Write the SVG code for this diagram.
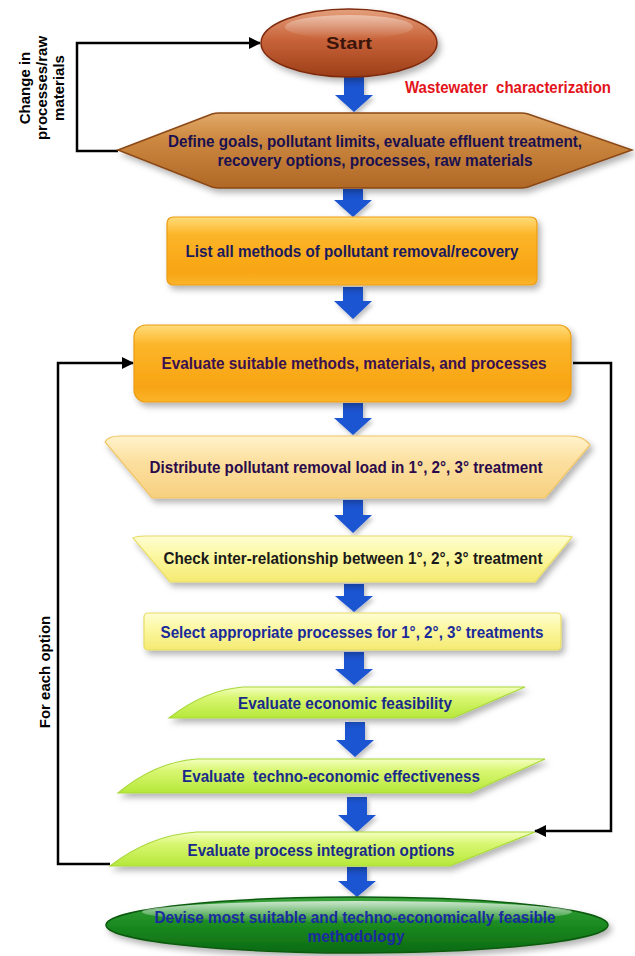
<svg xmlns="http://www.w3.org/2000/svg" width="635" height="956" viewBox="0 0 635 956">
<defs>
<style>
.t{font-family:"Liberation Sans",Arial,sans-serif;font-weight:bold;font-size:16.5px;text-anchor:middle}
.side{font-family:"Liberation Sans",Arial,sans-serif;font-weight:bold;font-size:15px;fill:#000;text-anchor:middle}
.conn{fill:none;stroke:#000;stroke-width:2.5}
.blue{fill:#1c54d2}
</style>
<filter id="sh" x="-10%" y="-30%" width="125%" height="170%">
<feDropShadow dx="3" dy="4" stdDeviation="3" flood-color="#000" flood-opacity="0.3"/>
</filter>
<filter id="bsh" x="-30%" y="-20%" width="170%" height="150%">
<feDropShadow dx="2" dy="3" stdDeviation="2" flood-color="#000" flood-opacity="0.25"/>
</filter>
<marker id="ah" markerWidth="12" markerHeight="12" refX="11" refY="6" orient="auto" markerUnits="userSpaceOnUse">
<path d="M0,0 L12,6 L0,12 Z" fill="#000"/>
</marker>
<linearGradient id="gStart" x1="0" y1="0" x2="0" y2="1">
<stop offset="0" stop-color="#e4a07c"/><stop offset="0.45" stop-color="#c8633a"/><stop offset="1" stop-color="#9c3e18"/>
</linearGradient>
<linearGradient id="gHex" x1="0" y1="0" x2="0" y2="1">
<stop offset="0" stop-color="#e2aa6a"/><stop offset="0.35" stop-color="#cc8840"/><stop offset="1" stop-color="#b06826"/>
</linearGradient>
<linearGradient id="gOr" x1="0" y1="0" x2="0" y2="1">
<stop offset="0" stop-color="#ffdc7a"/><stop offset="0.25" stop-color="#fcb62a"/><stop offset="0.8" stop-color="#f8a412"/><stop offset="1" stop-color="#fbb42c"/>
</linearGradient>
<linearGradient id="gPeach" x1="0" y1="0" x2="0" y2="1">
<stop offset="0" stop-color="#fff3cc"/><stop offset="0.4" stop-color="#fce0a0"/><stop offset="1" stop-color="#f7d080"/>
</linearGradient>
<linearGradient id="gYel" x1="0" y1="0" x2="0" y2="1">
<stop offset="0" stop-color="#fefdd2"/><stop offset="0.4" stop-color="#fcf8a4"/><stop offset="1" stop-color="#f4ea72"/>
</linearGradient>
<linearGradient id="gLime" x1="0" y1="0" x2="0" y2="1">
<stop offset="0" stop-color="#f4ffc0"/><stop offset="0.35" stop-color="#d8f670"/><stop offset="1" stop-color="#b6e83a"/>
</linearGradient>
<linearGradient id="gGreen" x1="0" y1="0" x2="0" y2="1">
<stop offset="0" stop-color="#3aa43c"/><stop offset="0.5" stop-color="#1a8a20"/><stop offset="1" stop-color="#0c6a12"/>
</linearGradient>
<linearGradient id="gHi" x1="0" y1="0" x2="0" y2="1">
<stop offset="0" stop-color="#ffffff" stop-opacity="0.75"/><stop offset="1" stop-color="#ffffff" stop-opacity="0"/>
</linearGradient>
</defs>
<rect width="635" height="956" fill="#fff"/>

<g id="connectors">
<path class="conn" d="M118,151 H77 V43 H260" marker-end="url(#ah)"/>
<path class="conn" d="M110,864 H58 V363 H133" marker-end="url(#ah)"/>
<path class="conn" d="M573,363 H611 V831 H535" marker-end="url(#ah)"/>
<g class="blue" filter="url(#bsh)">
<path d="M344,77 H364 V95 H373 L354,112 L335,95 H344 Z"/>
<path d="M343,189 H363 V200 H372 L353,217 L334,200 H343 Z"/>
<path d="M343,287 H363 V301 H372 L353,319 L334,301 H343 Z"/>
<path d="M343,403 H363 V418 H372 L353,435 L334,418 H343 Z"/>
<path d="M343,500 H363 V515 H372 L353,533 L334,515 H343 Z"/>
<path d="M344,584 H364 V596 H373 L354,612 L335,596 H344 Z"/>
<path d="M344,652 H364 V669 H373 L354,685 L335,669 H344 Z"/>
<path d="M345,722 H365 V740 H374 L355,757 L336,740 H345 Z"/>
<path d="M347,797 H367 V815 H376 L357,832 L338,815 H347 Z"/>
<path d="M347,867 H367 V881 H376 L357,897 L338,881 H347 Z"/>
</g>
</g>

<g id="start">
<ellipse cx="349" cy="43" rx="88" ry="34" fill="url(#gStart)" stroke="#7e2a0e" stroke-width="1.5" filter="url(#sh)"/>
<ellipse cx="349" cy="27" rx="64" ry="12" fill="url(#gHi)" opacity="0.55"/>
<text class="t" x="349" y="49" fill="#3a140a" textLength="46" lengthAdjust="spacingAndGlyphs">Start</text>
</g>

<g id="label-wastewater">
<text class="t" x="508" y="93" fill="#e3141a" textLength="206" lengthAdjust="spacingAndGlyphs" xml:space="preserve">Wastewater  characterization</text>
</g>

<g id="label-change">
<text class="side" transform="translate(30,88) rotate(-90)">Change in</text>
<text class="side" transform="translate(47,88) rotate(-90)">processes/raw</text>
<text class="side" transform="translate(64,88) rotate(-90)">materials</text>
</g>

<g id="label-foreach">
<text class="side" transform="translate(50,672) rotate(-90)" font-size="14.5">For each option</text>
</g>

<g id="define">
<path d="M118,150 L212,114 Q215,113 219,113 H521 Q525,113 528,114 L632,150 L528,187 Q525,188 521,188 H219 Q215,188 212,187 Z" fill="url(#gHex)" stroke="#8a4816" stroke-width="1.5" filter="url(#sh)"/>
<text class="t" x="375" y="147" fill="#1a1050" textLength="414" lengthAdjust="spacingAndGlyphs">Define goals, pollutant limits, evaluate effluent treatment,</text>
<text class="t" x="375" y="166" fill="#1a1050" textLength="315" lengthAdjust="spacingAndGlyphs">recovery options, processes, raw materials</text>
</g>

<g id="list">
<rect x="167" y="217" width="370" height="68" rx="6" fill="url(#gOr)" stroke="#ec9c12" stroke-width="1.2" filter="url(#sh)"/>
<text class="t" x="352" y="257" fill="#1a1a5c" textLength="333" lengthAdjust="spacingAndGlyphs">List all methods of pollutant removal/recovery</text>
</g>

<g id="evaluate">
<rect x="134" y="325" width="437" height="77" rx="12" fill="url(#gOr)" stroke="#ec9c12" stroke-width="1.2" filter="url(#sh)"/>
<text class="t" x="354" y="369" fill="#3a1050" textLength="385" lengthAdjust="spacingAndGlyphs">Evaluate suitable methods, materials, and processes</text>
</g>

<g id="distribute">
<path d="M105,442 Q108,436 120,436 H570 Q584,436 590,445 L545,498 H152 Z" fill="url(#gPeach)" stroke="#f0c464" stroke-width="1.2" filter="url(#sh)"/>
<text class="t" x="346" y="473" fill="#2a0a4a" textLength="393" lengthAdjust="spacingAndGlyphs">Distribute pollutant removal load in 1°, 2°, 3° treatment</text>
</g>

<g id="check">
<path d="M133,538 Q136,536 146,536 H562 Q569,536 572,537 L535,582 H170 Z" fill="url(#gYel)" stroke="#e8dc66" stroke-width="1.2" filter="url(#sh)"/>
<text class="t" x="353" y="564" fill="#1a1a1a" textLength="379" lengthAdjust="spacingAndGlyphs">Check inter-relationship between 1°, 2°, 3° treatment</text>
</g>

<g id="select">
<rect x="144" y="613" width="417" height="37" rx="4" fill="url(#gYel)" stroke="#e6dc66" stroke-width="1.2" filter="url(#sh)"/>
<text class="t" x="352" y="638" fill="#1a2a9a" textLength="383" lengthAdjust="spacingAndGlyphs">Select appropriate processes for 1°, 2°, 3° treatments</text>
</g>

<g id="economic">
<path d="M169,718 Q205,690 243,687 H525 L453,718 Z" fill="url(#gLime)" stroke="#a8d83a" stroke-width="1.2" filter="url(#sh)"/>
<text class="t" x="345" y="709" fill="#1a2a8a" textLength="214" lengthAdjust="spacingAndGlyphs">Evaluate economic feasibility</text>
</g>

<g id="techno">
<path d="M118,793 Q155,762 197,759 H545 L470,793 Z" fill="url(#gLime)" stroke="#a8d83a" stroke-width="1.2" filter="url(#sh)"/>
<text class="t" x="331" y="782" fill="#1a2a8a" textLength="298" lengthAdjust="spacingAndGlyphs" xml:space="preserve">Evaluate  techno-economic effectiveness</text>
</g>

<g id="integration">
<path d="M110,866 Q150,835 197,832 H535 L450,866 Z" fill="url(#gLime)" stroke="#a8d83a" stroke-width="1.2" filter="url(#sh)"/>
<text class="t" x="321" y="856" fill="#1a2a8a" textLength="267" lengthAdjust="spacingAndGlyphs">Evaluate process integration options</text>
</g>

<g id="devise">
<ellipse cx="357" cy="925" rx="251" ry="28" fill="url(#gGreen)" stroke="#0a5a10" stroke-width="1.5" filter="url(#sh)"/>
<ellipse cx="357" cy="912" rx="215" ry="11" fill="url(#gHi)"/>
<text class="t" x="355" y="923" fill="#1a2aa0" textLength="401" lengthAdjust="spacingAndGlyphs">Devise most suitable and techno-economically feasible</text>
<text class="t" x="356" y="942" fill="#1a2aa0" textLength="97" lengthAdjust="spacingAndGlyphs">methodology</text>
</g>
</svg>
